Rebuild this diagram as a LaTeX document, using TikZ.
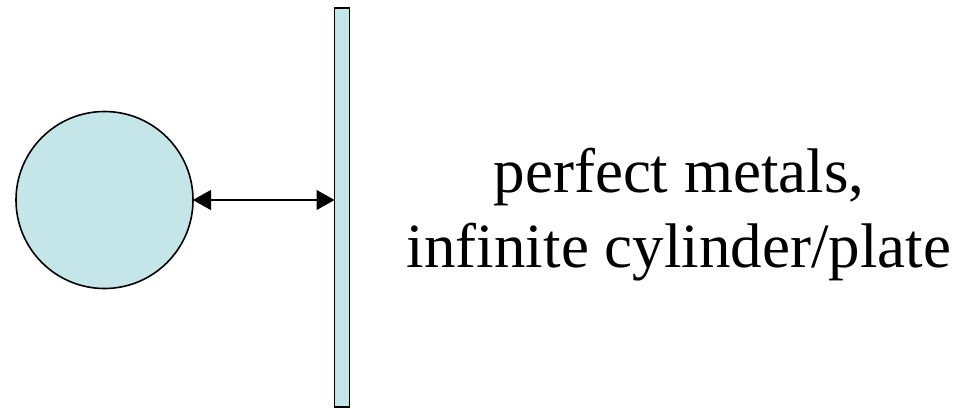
\documentclass[tikz,border=0pt]{standalone}
\usepackage{fontspec}
\setmainfont{Liberation Serif}[Ligatures=CommonOff]
\usetikzlibrary{arrows.meta}
\definecolor{metal}{RGB}{196,230,232}
\tikzset{
  metalshape/.style={draw=black, fill=metal, line width=1.6pt, inner sep=0pt, outer sep=0pt},
  labeltext/.style={font=\fontsize{63}{75}\selectfont, inner sep=0pt, anchor=base},
  gap/.style={line width=1.3pt, {Triangle[length=18pt,width=20pt]}-{Triangle[length=18pt,width=20pt]}}
}
\begin{document}
\begin{tikzpicture}[x=1pt,y=-1pt]
\useasboundingbox (0,0) rectangle (976,408);
\node[metalshape, circle, minimum size=177pt] (ball) at (104.5,200) {};
\node[metalshape, rectangle, minimum width=15pt, minimum height=399pt] (plate) at (342,207.5) {};
\coordinate (hit) at (ball.east -| plate.west);
\draw[gap] (ball.east) -- (hit);
\node[labeltext] (line1) at (679,192) {perfect metals,};
\node[labeltext] (line2) at (679,267) {infinite cylinder/plate};
\end{tikzpicture}
\end{document}
